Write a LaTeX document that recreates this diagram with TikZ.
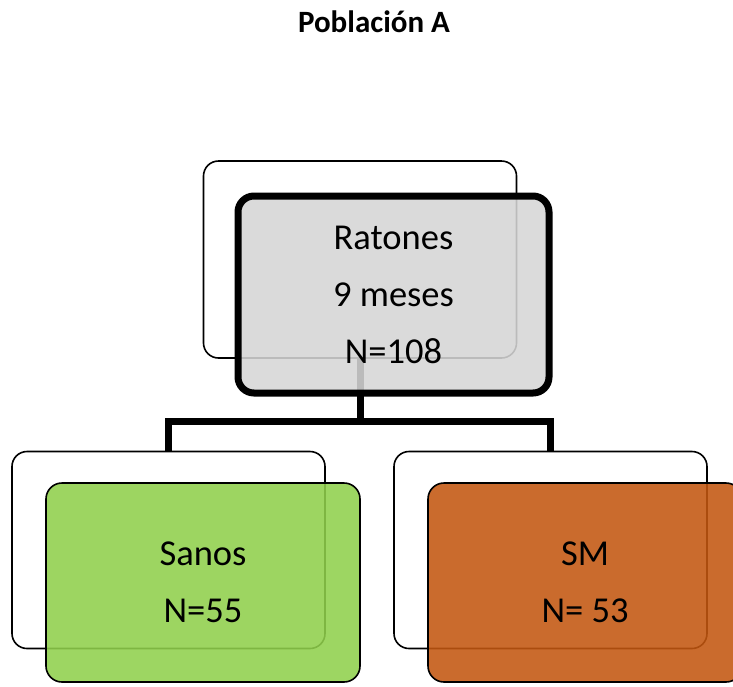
\documentclass[tikz,border=0pt]{standalone}
\usepackage{fontspec}
\setmainfont{Carlito}
\usetikzlibrary{positioning}
\definecolor{boxgray}{RGB}{214,214,214}
\definecolor{sanosgreen}{RGB}{144,208,76}
\definecolor{smorange}{RGB}{195,87,16}
\tikzset{
    backbox/.style={
        draw=black, line width=1.6pt, fill=white,
        rounded corners=15pt,
        minimum width=313pt, minimum height=197pt
    },
    frontbox/.style={
        draw=black, line width=1.6pt,
        fill opacity=0.88, text opacity=1,
        rounded corners=16pt, align=center,
        minimum width=314pt, minimum height=199pt,
        font=\fontsize{36.5}{57}\selectfont
    },
    conn/.style={
        draw=black, line width=7pt
    }
}
\begin{document}
\begin{tikzpicture}[x=1pt,y=-1pt]
    \useasboundingbox (0,0) rectangle (733,686);
    \node[anchor=base, font=\fontsize{31}{36}\selectfont\bfseries] (title) at (374,32) {Población A};
    % back boxes
    \node[backbox] (topback) at (360,259.5) {};
    \node[backbox] (sanosback) at (168.5,550) {};
    \node[backbox] (smback) at (550.5,550) {};
    % tree lines
    \draw[conn] (topback.south) -- ++(0,63) coordinate (split);
    \draw[conn] (sanosback.north) |- (split) -| (smback.north);
    % front boxes
    \node[frontbox, fill=boxgray, line width=7pt, minimum width=311pt, minimum height=197pt] (topfront) at (393.5,294.5) {Ratones\\9 meses\\N=108};
    \node[frontbox, fill=sanosgreen] (sanosfront) at (203,582.5) {Sanos\\N=55};
    \node[frontbox, fill=smorange] (smfront) at (585,582.5) {SM\\N= 53};
\end{tikzpicture}
\end{document}
